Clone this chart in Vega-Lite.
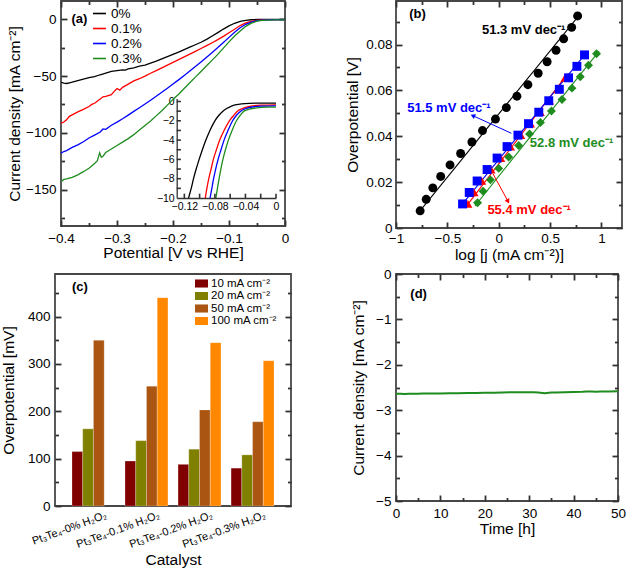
{
  "$schema": "https://vega.github.io/schema/vega-lite/v6.json",
  "background": "white",
  "padding": {"left": 0, "top": 0, "right": 0, "bottom": 0},
  "datasets": {
    "lsv": [
      {"s":"0%","v":-0.4,"j":-55.5},{"s":"0%","v":-0.395,"j":-56.3},{"s":"0%","v":-0.39,"j":-56.6},{"s":"0%","v":-0.385,"j":-56.0},{"s":"0%","v":-0.38,"j":-55.4},{"s":"0%","v":-0.37,"j":-54.0},{"s":"0%","v":-0.36,"j":-52.8},{"s":"0%","v":-0.35,"j":-51.5},{"s":"0%","v":-0.34,"j":-50.5},{"s":"0%","v":-0.33,"j":-48.9},{"s":"0%","v":-0.32,"j":-47.5},{"s":"0%","v":-0.31,"j":-46.0},{"s":"0%","v":-0.3,"j":-45.2},{"s":"0%","v":-0.29,"j":-44.6},{"s":"0%","v":-0.285,"j":-44.9},{"s":"0%","v":-0.28,"j":-43.8},{"s":"0%","v":-0.27,"j":-42.9},{"s":"0%","v":-0.26,"j":-41.3},{"s":"0%","v":-0.25,"j":-40.4},{"s":"0%","v":-0.24,"j":-38.6},{"s":"0%","v":-0.23,"j":-36.9},{"s":"0%","v":-0.22,"j":-35.0},{"s":"0%","v":-0.21,"j":-33.0},{"s":"0%","v":-0.2,"j":-30.9},{"s":"0%","v":-0.19,"j":-28.9},{"s":"0%","v":-0.18,"j":-26.8},{"s":"0%","v":-0.17,"j":-24.6},{"s":"0%","v":-0.16,"j":-22.5},{"s":"0%","v":-0.15,"j":-20.3},{"s":"0%","v":-0.14,"j":-17.8},{"s":"0%","v":-0.13,"j":-14.8},{"s":"0%","v":-0.12,"j":-11.8},{"s":"0%","v":-0.11,"j":-8.7},{"s":"0%","v":-0.1,"j":-5.9},{"s":"0%","v":-0.09,"j":-3.6},{"s":"0%","v":-0.08,"j":-2.0},{"s":"0%","v":-0.07,"j":-1.0},{"s":"0%","v":-0.06,"j":-0.5},{"s":"0%","v":-0.05,"j":-0.3},{"s":"0%","v":-0.04,"j":-0.2},{"s":"0%","v":-0.02,"j":-0.15},{"s":"0%","v":0,"j":-0.15},
      {"s":"0.1%","v":-0.4,"j":-91.5},{"s":"0.1%","v":-0.395,"j":-90.5},{"s":"0.1%","v":-0.39,"j":-88.5},{"s":"0.1%","v":-0.385,"j":-85.5},{"s":"0.1%","v":-0.38,"j":-84.2},{"s":"0.1%","v":-0.37,"j":-81.6},{"s":"0.1%","v":-0.36,"j":-79.4},{"s":"0.1%","v":-0.35,"j":-76.8},{"s":"0.1%","v":-0.345,"j":-75.0},{"s":"0.1%","v":-0.34,"j":-74.0},{"s":"0.1%","v":-0.33,"j":-70.3},{"s":"0.1%","v":-0.325,"j":-68.3},{"s":"0.1%","v":-0.32,"j":-67.9},{"s":"0.1%","v":-0.31,"j":-66.5},{"s":"0.1%","v":-0.305,"j":-63.5},{"s":"0.1%","v":-0.3,"j":-61.0},{"s":"0.1%","v":-0.295,"j":-62.4},{"s":"0.1%","v":-0.29,"j":-60.0},{"s":"0.1%","v":-0.28,"j":-57.2},{"s":"0.1%","v":-0.27,"j":-54.3},{"s":"0.1%","v":-0.26,"j":-52.4},{"s":"0.1%","v":-0.25,"j":-50.1},{"s":"0.1%","v":-0.24,"j":-47.6},{"s":"0.1%","v":-0.23,"j":-45.3},{"s":"0.1%","v":-0.22,"j":-42.8},{"s":"0.1%","v":-0.21,"j":-40.4},{"s":"0.1%","v":-0.2,"j":-38.0},{"s":"0.1%","v":-0.19,"j":-35.6},{"s":"0.1%","v":-0.18,"j":-33.2},{"s":"0.1%","v":-0.17,"j":-30.8},{"s":"0.1%","v":-0.16,"j":-28.3},{"s":"0.1%","v":-0.15,"j":-25.8},{"s":"0.1%","v":-0.14,"j":-23.3},{"s":"0.1%","v":-0.13,"j":-20.7},{"s":"0.1%","v":-0.12,"j":-18.0},{"s":"0.1%","v":-0.11,"j":-15.1},{"s":"0.1%","v":-0.1,"j":-12.0},{"s":"0.1%","v":-0.09,"j":-8.8},{"s":"0.1%","v":-0.08,"j":-5.6},{"s":"0.1%","v":-0.07,"j":-3.3},{"s":"0.1%","v":-0.06,"j":-1.9},{"s":"0.1%","v":-0.05,"j":-1.0},{"s":"0.1%","v":-0.04,"j":-0.6},{"s":"0.1%","v":-0.02,"j":-0.4},{"s":"0.1%","v":0,"j":-0.35},
      {"s":"0.2%","v":-0.4,"j":-118.0},{"s":"0.2%","v":-0.395,"j":-116.5},{"s":"0.2%","v":-0.39,"j":-115.6},{"s":"0.2%","v":-0.38,"j":-112.8},{"s":"0.2%","v":-0.37,"j":-110.6},{"s":"0.2%","v":-0.36,"j":-107.9},{"s":"0.2%","v":-0.35,"j":-104.6},{"s":"0.2%","v":-0.34,"j":-102.0},{"s":"0.2%","v":-0.33,"j":-99.3},{"s":"0.2%","v":-0.325,"j":-96.6},{"s":"0.2%","v":-0.32,"j":-96.9},{"s":"0.2%","v":-0.31,"j":-93.3},{"s":"0.2%","v":-0.3,"j":-90.6},{"s":"0.2%","v":-0.29,"j":-87.6},{"s":"0.2%","v":-0.28,"j":-84.4},{"s":"0.2%","v":-0.27,"j":-81.1},{"s":"0.2%","v":-0.26,"j":-77.9},{"s":"0.2%","v":-0.25,"j":-74.7},{"s":"0.2%","v":-0.24,"j":-71.3},{"s":"0.2%","v":-0.23,"j":-67.9},{"s":"0.2%","v":-0.22,"j":-64.3},{"s":"0.2%","v":-0.21,"j":-60.7},{"s":"0.2%","v":-0.2,"j":-57.1},{"s":"0.2%","v":-0.19,"j":-53.4},{"s":"0.2%","v":-0.18,"j":-49.6},{"s":"0.2%","v":-0.17,"j":-45.7},{"s":"0.2%","v":-0.16,"j":-41.7},{"s":"0.2%","v":-0.15,"j":-37.6},{"s":"0.2%","v":-0.14,"j":-33.5},{"s":"0.2%","v":-0.13,"j":-29.3},{"s":"0.2%","v":-0.12,"j":-25.0},{"s":"0.2%","v":-0.11,"j":-20.5},{"s":"0.2%","v":-0.1,"j":-16.0},{"s":"0.2%","v":-0.09,"j":-11.5},{"s":"0.2%","v":-0.08,"j":-7.5},{"s":"0.2%","v":-0.07,"j":-4.5},{"s":"0.2%","v":-0.06,"j":-2.5},{"s":"0.2%","v":-0.05,"j":-1.3},{"s":"0.2%","v":-0.04,"j":-0.8},{"s":"0.2%","v":-0.02,"j":-0.5},{"s":"0.2%","v":0,"j":-0.45},
      {"s":"0.3%","v":-0.4,"j":-143.0},{"s":"0.3%","v":-0.395,"j":-141.0},{"s":"0.3%","v":-0.39,"j":-140.6},{"s":"0.3%","v":-0.38,"j":-139.2},{"s":"0.3%","v":-0.37,"j":-137.0},{"s":"0.3%","v":-0.36,"j":-134.2},{"s":"0.3%","v":-0.35,"j":-131.2},{"s":"0.3%","v":-0.34,"j":-127.0},{"s":"0.3%","v":-0.335,"j":-124.6},{"s":"0.3%","v":-0.331,"j":-117.6},{"s":"0.3%","v":-0.328,"j":-121.6},{"s":"0.3%","v":-0.325,"j":-120.6},{"s":"0.3%","v":-0.32,"j":-117.2},{"s":"0.3%","v":-0.31,"j":-114.2},{"s":"0.3%","v":-0.3,"j":-111.2},{"s":"0.3%","v":-0.29,"j":-108.2},{"s":"0.3%","v":-0.28,"j":-105.1},{"s":"0.3%","v":-0.27,"j":-101.6},{"s":"0.3%","v":-0.26,"j":-97.6},{"s":"0.3%","v":-0.25,"j":-93.6},{"s":"0.3%","v":-0.24,"j":-89.6},{"s":"0.3%","v":-0.23,"j":-85.1},{"s":"0.3%","v":-0.22,"j":-80.6},{"s":"0.3%","v":-0.21,"j":-75.6},{"s":"0.3%","v":-0.2,"j":-70.6},{"s":"0.3%","v":-0.19,"j":-66.0},{"s":"0.3%","v":-0.18,"j":-61.0},{"s":"0.3%","v":-0.17,"j":-56.0},{"s":"0.3%","v":-0.16,"j":-51.0},{"s":"0.3%","v":-0.15,"j":-46.0},{"s":"0.3%","v":-0.14,"j":-41.0},{"s":"0.3%","v":-0.13,"j":-36.0},{"s":"0.3%","v":-0.12,"j":-31.0},{"s":"0.3%","v":-0.11,"j":-25.5},{"s":"0.3%","v":-0.1,"j":-20.0},{"s":"0.3%","v":-0.09,"j":-14.8},{"s":"0.3%","v":-0.08,"j":-10.5},{"s":"0.3%","v":-0.07,"j":-6.3},{"s":"0.3%","v":-0.06,"j":-3.5},{"s":"0.3%","v":-0.05,"j":-1.8},{"s":"0.3%","v":-0.04,"j":-1.0},{"s":"0.3%","v":-0.02,"j":-0.65},{"s":"0.3%","v":0,"j":-0.58}
    ],
    "lsvz": [
      {"s":"0%","v":-0.1145,"j":-10},{"s":"0%","v":-0.111,"j":-9},{"s":"0%","v":-0.108,"j":-8},{"s":"0%","v":-0.1045,"j":-7},{"s":"0%","v":-0.1006,"j":-6},{"s":"0%","v":-0.0964,"j":-5},{"s":"0%","v":-0.0918,"j":-4},{"s":"0%","v":-0.0865,"j":-3},{"s":"0%","v":-0.08,"j":-2},{"s":"0%","v":-0.075,"j":-1.45},{"s":"0%","v":-0.0695,"j":-1.0},{"s":"0%","v":-0.064,"j":-0.7},{"s":"0%","v":-0.059,"j":-0.5},{"s":"0%","v":-0.052,"j":-0.33},{"s":"0%","v":-0.045,"j":-0.24},{"s":"0%","v":-0.035,"j":-0.19},{"s":"0%","v":-0.02,"j":-0.17},{"s":"0%","v":0,"j":-0.17},
      {"s":"0.1%","v":-0.0926,"j":-10},{"s":"0.1%","v":-0.0905,"j":-9},{"s":"0.1%","v":-0.088,"j":-8},{"s":"0.1%","v":-0.085,"j":-7},{"s":"0.1%","v":-0.082,"j":-6},{"s":"0.1%","v":-0.078,"j":-5},{"s":"0.1%","v":-0.0737,"j":-4},{"s":"0.1%","v":-0.068,"j":-3},{"s":"0.1%","v":-0.061,"j":-2},{"s":"0.1%","v":-0.0555,"j":-1.45},{"s":"0.1%","v":-0.0505,"j":-1.0},{"s":"0.1%","v":-0.045,"j":-0.75},{"s":"0.1%","v":-0.04,"j":-0.6},{"s":"0.1%","v":-0.03,"j":-0.45},{"s":"0.1%","v":-0.02,"j":-0.38},{"s":"0.1%","v":0,"j":-0.34},
      {"s":"0.2%","v":-0.0863,"j":-10},{"s":"0.2%","v":-0.084,"j":-9},{"s":"0.2%","v":-0.0817,"j":-8},{"s":"0.2%","v":-0.079,"j":-7},{"s":"0.2%","v":-0.0758,"j":-6},{"s":"0.2%","v":-0.072,"j":-5},{"s":"0.2%","v":-0.068,"j":-4},{"s":"0.2%","v":-0.0628,"j":-3},{"s":"0.2%","v":-0.0568,"j":-2},{"s":"0.2%","v":-0.052,"j":-1.45},{"s":"0.2%","v":-0.0463,"j":-1.0},{"s":"0.2%","v":-0.04,"j":-0.75},{"s":"0.2%","v":-0.03,"j":-0.56},{"s":"0.2%","v":-0.02,"j":-0.48},{"s":"0.2%","v":0,"j":-0.45},
      {"s":"0.3%","v":-0.0787,"j":-10},{"s":"0.3%","v":-0.0767,"j":-9},{"s":"0.3%","v":-0.0745,"j":-8},{"s":"0.3%","v":-0.0722,"j":-7},{"s":"0.3%","v":-0.0695,"j":-6},{"s":"0.3%","v":-0.0662,"j":-5},{"s":"0.3%","v":-0.0623,"j":-4},{"s":"0.3%","v":-0.0575,"j":-3},{"s":"0.3%","v":-0.0518,"j":-2},{"s":"0.3%","v":-0.047,"j":-1.45},{"s":"0.3%","v":-0.042,"j":-1.0},{"s":"0.3%","v":-0.035,"j":-0.8},{"s":"0.3%","v":-0.025,"j":-0.66},{"s":"0.3%","v":-0.01,"j":-0.59},{"s":"0.3%","v":0,"j":-0.58}
    ],
    "insetXTicks": [{"v":-0.12},{"v":-0.1},{"v":-0.08},{"v":-0.06},{"v":-0.04},{"v":-0.02},{"v":0}],
    "insetYTicks": [{"j":-9},{"j":-8},{"j":-7},{"j":-6},{"j":-5},{"j":-4},{"j":-3},{"j":-2},{"j":-1},{"j":0}],
    "taf": [
      {"s":"0%","lj":-0.765,"eta":0.0075},{"s":"0%","lj":-0.706,"eta":0.0125},{"s":"0%","lj":-0.642,"eta":0.0175},{"s":"0%","lj":-0.565,"eta":0.0225},{"s":"0%","lj":-0.474,"eta":0.0275},{"s":"0%","lj":-0.371,"eta":0.0325},{"s":"0%","lj":-0.261,"eta":0.0375},{"s":"0%","lj":-0.158,"eta":0.0425},{"s":"0%","lj":-0.032,"eta":0.0475},{"s":"0%","lj":0.074,"eta":0.0525},{"s":"0%","lj":0.177,"eta":0.0575},{"s":"0%","lj":0.284,"eta":0.0625},{"s":"0%","lj":0.384,"eta":0.0675},{"s":"0%","lj":0.471,"eta":0.0725},{"s":"0%","lj":0.558,"eta":0.0775},{"s":"0%","lj":0.632,"eta":0.0825},{"s":"0%","lj":0.71,"eta":0.0875},{"s":"0%","lj":0.768,"eta":0.0925},
      {"s":"0.1%","lj":-0.3,"eta":0.0105},{"s":"0.1%","lj":-0.24,"eta":0.0155},{"s":"0.1%","lj":-0.165,"eta":0.0205},{"s":"0.1%","lj":-0.075,"eta":0.0255},{"s":"0.1%","lj":0.02,"eta":0.0305},{"s":"0.1%","lj":0.115,"eta":0.0355},{"s":"0.1%","lj":0.215,"eta":0.0405},{"s":"0.1%","lj":0.31,"eta":0.0455},{"s":"0.1%","lj":0.405,"eta":0.0505},{"s":"0.1%","lj":0.495,"eta":0.0555},{"s":"0.1%","lj":0.575,"eta":0.0605},{"s":"0.1%","lj":0.645,"eta":0.0655},
      {"s":"0.2%","lj":-0.352,"eta":0.0105},{"s":"0.2%","lj":-0.287,"eta":0.0155},{"s":"0.2%","lj":-0.21,"eta":0.0205},{"s":"0.2%","lj":-0.113,"eta":0.0255},{"s":"0.2%","lj":-0.016,"eta":0.0305},{"s":"0.2%","lj":0.081,"eta":0.0355},{"s":"0.2%","lj":0.187,"eta":0.0405},{"s":"0.2%","lj":0.29,"eta":0.0455},{"s":"0.2%","lj":0.39,"eta":0.0505},{"s":"0.2%","lj":0.487,"eta":0.0555},{"s":"0.2%","lj":0.59,"eta":0.0605},{"s":"0.2%","lj":0.68,"eta":0.0655},{"s":"0.2%","lj":0.761,"eta":0.0705},{"s":"0.2%","lj":0.835,"eta":0.0755},
      {"s":"0.3%","lj":-0.206,"eta":0.011},{"s":"0.3%","lj":-0.152,"eta":0.016},{"s":"0.3%","lj":-0.081,"eta":0.021},{"s":"0.3%","lj":0.0,"eta":0.026},{"s":"0.3%","lj":0.097,"eta":0.031},{"s":"0.3%","lj":0.194,"eta":0.036},{"s":"0.3%","lj":0.3,"eta":0.041},{"s":"0.3%","lj":0.406,"eta":0.046},{"s":"0.3%","lj":0.513,"eta":0.051},{"s":"0.3%","lj":0.616,"eta":0.056},{"s":"0.3%","lj":0.713,"eta":0.061},{"s":"0.3%","lj":0.794,"eta":0.066},{"s":"0.3%","lj":0.874,"eta":0.071},{"s":"0.3%","lj":0.952,"eta":0.076}
    ],
    "fit": [
      {"s":"0%","lj":-0.79,"eta":0.0062},{"s":"0%","lj":0.79,"eta":0.0932},
      {"s":"0.1%","lj":-0.32,"eta":0.0092},{"s":"0.1%","lj":0.67,"eta":0.0672},
      {"s":"0.2%","lj":-0.37,"eta":0.0095},{"s":"0.2%","lj":0.85,"eta":0.0763},
      {"s":"0.3%","lj":-0.232,"eta":0.0096},{"s":"0.3%","lj":0.977,"eta":0.0771}
    ],
    "note": [
      {"s":"0%","lj":0.243,"eta":0.0865,"t":"51.3 mV dec⁻¹"},
      {"s":"0.2%","lj":-0.485,"eta":0.0523,"t":"51.5 mV dec⁻¹"},
      {"s":"0.3%","lj":0.709,"eta":0.0371,"t":"52.8 mV dec⁻¹"},
      {"s":"0.1%","lj":0.296,"eta":0.008,"t":"55.4 mV dec⁻¹"}
    ],
    "arr": [
      {"s":"0.2%","x0":0.123,"y0":0.0413,"x1":-0.252,"y1":0.049},
      {"s":"0.1%","x0":-0.055,"y0":0.0236,"x1":0.091,"y1":0.0116}
    ],
    "bars": [
      {"cat":"Pt₃Te₄-0% H₂O₂","cd":"10 mA cm⁻²","eta":115},{"cat":"Pt₃Te₄-0% H₂O₂","cd":"20 mA cm⁻²","eta":163},{"cat":"Pt₃Te₄-0% H₂O₂","cd":"50 mA cm⁻²","eta":350},
      {"cat":"Pt₃Te₄-0.1% H₂O₂","cd":"10 mA cm⁻²","eta":95},{"cat":"Pt₃Te₄-0.1% H₂O₂","cd":"20 mA cm⁻²","eta":138},{"cat":"Pt₃Te₄-0.1% H₂O₂","cd":"50 mA cm⁻²","eta":253},{"cat":"Pt₃Te₄-0.1% H₂O₂","cd":"100 mA cm⁻²","eta":440},
      {"cat":"Pt₃Te₄-0.2% H₂O₂","cd":"10 mA cm⁻²","eta":88},{"cat":"Pt₃Te₄-0.2% H₂O₂","cd":"20 mA cm⁻²","eta":120},{"cat":"Pt₃Te₄-0.2% H₂O₂","cd":"50 mA cm⁻²","eta":203},{"cat":"Pt₃Te₄-0.2% H₂O₂","cd":"100 mA cm⁻²","eta":345},
      {"cat":"Pt₃Te₄-0.3% H₂O₂","cd":"10 mA cm⁻²","eta":80},{"cat":"Pt₃Te₄-0.3% H₂O₂","cd":"20 mA cm⁻²","eta":108},{"cat":"Pt₃Te₄-0.3% H₂O₂","cd":"50 mA cm⁻²","eta":178},{"cat":"Pt₃Te₄-0.3% H₂O₂","cd":"100 mA cm⁻²","eta":307}
    ],
    "stab": [
      {"t":0,"jd":-2.636},{"t":1,"jd":-2.64},{"t":2,"jd":-2.645},{"t":3,"jd":-2.64},{"t":4,"jd":-2.64},{"t":5,"jd":-2.638},{"t":6,"jd":-2.632},{"t":8,"jd":-2.63},{"t":10,"jd":-2.632},{"t":12,"jd":-2.628},{"t":14,"jd":-2.625},{"t":16,"jd":-2.62},{"t":18,"jd":-2.622},{"t":20,"jd":-2.616},{"t":22,"jd":-2.615},{"t":24,"jd":-2.61},{"t":26,"jd":-2.605},{"t":28,"jd":-2.607},{"t":30,"jd":-2.604},{"t":31,"jd":-2.605},{"t":32,"jd":-2.612},{"t":33,"jd":-2.622},{"t":33.5,"jd":-2.627},{"t":34,"jd":-2.62},{"t":35,"jd":-2.612},{"t":36,"jd":-2.61},{"t":38,"jd":-2.603},{"t":40,"jd":-2.598},{"t":42,"jd":-2.592},{"t":43,"jd":-2.586},{"t":44,"jd":-2.588},{"t":45,"jd":-2.594},{"t":46,"jd":-2.59},{"t":48,"jd":-2.588},{"t":50,"jd":-2.584}
    ],
    "tags": [
      {"p":"a","x":-0.367,"y":0.6,"t":"(a)"},
      {"p":"b","x":-0.791,"y":0.0933,"t":"(b)"},
      {"p":"c","cat":"Pt₃Te₄-0% H₂O₂","y":462,"t":"(c)"},
      {"p":"d","x":5.1,"y":-0.45,"t":"(d)"}
    ]
  },
  "concat": [
    {
      "width": 224, "height": 225,
      "layer": [
        {
          "data": {"name": "lsv"},
          "mark": {"type": "line", "strokeWidth": 1.3},
          "encoding": {
            "x": {"field": "v", "type": "quantitative", "scale": {"domain": [-0.4, 0], "nice": false, "zero": false},
              "axis": {"orient": "bottom", "title": "Potential [V vs RHE]", "format": "~g", "values": [-0.4,-0.3,-0.2,-0.1,0],
                "grid": true, "gridDash": [6, 3000], "labelPadding": 5, "titlePadding": 1}},
            "y": {"field": "j", "type": "quantitative", "scale": {"domain": [-182, 16], "nice": false, "zero": false},
              "axis": {"orient": "left", "title": "Current density [mA cm⁻²]", "values": [-150,-100,-50,0],
                "grid": true, "gridDash": [6, 3000], "labelPadding": 5, "titlePadding": 3}},
            "color": {"field": "s", "type": "nominal",
              "scale": {"domain": ["0%","0.1%","0.2%","0.3%"], "range": ["#000000","#ff0000","#0000ff","#1e8c1e"]},
              "legend": {"orient": "none", "legendX": 31, "legendY": 5, "title": null, "padding": 0,
                "symbolType": "stroke", "symbolSize": 169, "symbolStrokeWidth": 1.6,
                "labelFontSize": 13.5, "labelOffset": 4, "rowPadding": 1}}
          }
        },
        {
          "data": {"name": "tags"},
          "transform": [{"filter": "datum.p == 'a'"}],
          "mark": {"type": "text", "fontWeight": "bold", "fontSize": 13, "align": "center", "baseline": "middle"},
          "encoding": {
            "x": {"field": "x", "type": "quantitative", "scale": {"domain": [-0.4, 0], "nice": false, "zero": false},
              "axis": {"orient": "top", "title": null, "labels": false, "values": [-0.4,-0.3,-0.2,-0.1,0], "grid": true, "gridDash": [6, 3000]}},
            "y": {"field": "y", "type": "quantitative", "scale": {"domain": [-182, 16], "nice": false, "zero": false},
              "axis": {"orient": "right", "title": null, "labels": false, "values": [-150,-100,-50,0], "grid": true, "gridDash": [6, 3000]}},
            "text": {"field": "t"}
          }
        },
        {
          "data": {"name": "tags"},
          "transform": [{"filter": "datum.p == 'a'"}],
          "mark": {"type": "point", "opacity": 0},
          "encoding": {
            "x": {"field": "x", "type": "quantitative", "scale": {"domain": [-0.4, 0], "nice": false, "zero": false},
              "axis": {"orient": "bottom", "title": null, "labels": false, "values": [-0.35,-0.25,-0.15,-0.05], "grid": true, "gridDash": [3.5, 3000]}},
            "y": {"field": "y", "type": "quantitative", "scale": {"domain": [-182, 16], "nice": false, "zero": false},
              "axis": {"orient": "left", "title": null, "labels": false, "values": [-175,-125,-75,-25], "grid": true, "gridDash": [3.5, 3000]}}
          }
        },
        {
          "data": {"name": "tags"},
          "transform": [{"filter": "datum.p == 'a'"}],
          "mark": {"type": "point", "opacity": 0},
          "encoding": {
            "x": {"field": "x", "type": "quantitative", "scale": {"domain": [-0.4, 0], "nice": false, "zero": false},
              "axis": {"orient": "top", "title": null, "labels": false, "values": [-0.35,-0.25,-0.15,-0.05], "grid": true, "gridDash": [3.5, 3000]}},
            "y": {"field": "y", "type": "quantitative", "scale": {"domain": [-182, 16], "nice": false, "zero": false},
              "axis": {"orient": "right", "title": null, "labels": false, "values": [-175,-125,-75,-25], "grid": true, "gridDash": [3.5, 3000]}}
          }
        },
        {
          "data": {"name": "lsvz"},
          "mark": {"type": "line", "strokeWidth": 1.3, "interpolate": "monotone"},
          "encoding": {
            "x": {"field": "v", "type": "quantitative", "scale": {"domain": [-0.13, 0], "range": [115.7, 215], "nice": false, "zero": false},
              "axis": {"orient": "bottom", "offset": -28, "title": null, "format": "~g", "domain": true, "domainColor": "#333", "domainWidth": 1.3,
                "values": [-0.12,-0.1,-0.08,-0.06,-0.04,-0.02,0],
                "labelExpr": "abs(round(datum.value*100)) % 4 == 0 ? datum.label : ''",
                "labelFontSize": 10.5, "labelPadding": 3}},
            "y": {"field": "j", "type": "quantitative", "scale": {"domain": [-10, 0.3], "range": [197, 97.6], "nice": false, "zero": false},
              "axis": {"orient": "left", "offset": -115.7, "title": null, "domain": true, "domainColor": "#333", "domainWidth": 1.3,
                "values": [-10,-9,-8,-7,-6,-5,-4,-3,-2,-1,0],
                "labelExpr": "datum.value % 2 == 0 ? datum.label : ''",
                "labelFontSize": 10.5, "labelPadding": 2.5}},
            "color": {"field": "s", "type": "nominal"}
          }
        },
        {
          "data": {"name": "insetXTicks"},
          "mark": {"type": "rule", "color": "#333333", "strokeWidth": 1.6},
          "encoding": {
            "x": {"field": "v", "type": "quantitative", "scale": {"domain": [-0.13, 0], "range": [115.7, 215], "nice": false, "zero": false}, "axis": null},
            "y": {"datum": -10, "type": "quantitative", "scale": {"domain": [-10, 0.3], "range": [197, 97.6], "nice": false, "zero": false}, "axis": null},
            "y2": {"datum": -9.55}
          }
        },
        {
          "data": {"name": "insetYTicks"},
          "mark": {"type": "rule", "color": "#333333", "strokeWidth": 1.6},
          "encoding": {
            "y": {"field": "j", "type": "quantitative", "scale": {"domain": [-10, 0.3], "range": [197, 97.6], "nice": false, "zero": false}, "axis": null},
            "x": {"datum": -0.13, "type": "quantitative", "scale": {"domain": [-0.13, 0], "range": [115.7, 215], "nice": false, "zero": false}, "axis": null},
            "x2": {"datum": -0.1245}
          }
        }
      ],
      "resolve": {"scale": {"x": "independent", "y": "independent"}, "axis": {"x": "independent", "y": "independent"}}
    },
    {
      "width": 226, "height": 227,
      "layer": [
        {
          "data": {"name": "fit"},
          "mark": {"type": "line", "strokeWidth": 1.1},
          "encoding": {
            "x": {"field": "lj", "type": "quantitative", "scale": {"domain": [-1, 1.2], "nice": false, "zero": false}, "axis": null},
            "y": {"field": "eta", "type": "quantitative", "scale": {"domain": [0, 0.099], "nice": false, "zero": false}, "axis": null},
            "detail": {"field": "s"},
            "stroke": {"field": "s", "type": "nominal", "scale": {"domain": ["0%","0.1%","0.2%","0.3%"], "range": ["#000000","#ff0000","#0000ff","#1e8c1e"]}, "legend": null}
          }
        },
        {
          "data": {"name": "taf"},
          "mark": {"type": "point", "filled": true, "size": 80, "opacity": 1},
          "encoding": {
            "x": {"field": "lj", "type": "quantitative", "scale": {"domain": [-1, 1.2], "nice": false, "zero": false},
              "axis": {"orient": "bottom", "title": "log [j (mA cm⁻²)]", "format": "~g", "values": [-1,-0.5,0,0.5,1],
                "grid": true, "gridDash": [6, 3000], "labelPadding": 3.5, "titlePadding": 2}},
            "y": {"field": "eta", "type": "quantitative", "scale": {"domain": [0, 0.099], "nice": false, "zero": false},
              "axis": {"orient": "left", "title": "Overpotential [V]", "values": [0,0.02,0.04,0.06,0.08],
                "labelExpr": "datum.value == 0 ? '0' : format(datum.value, '.2f')",
                "grid": true, "gridDash": [6, 3000], "labelPadding": 4, "titlePadding": 5}},
            "color": {"field": "s", "type": "nominal",
              "scale": {"domain": ["0%","0.1%","0.2%","0.3%"], "range": ["#000000","#ff0000","#0000ff","#1e8c1e"]},
              "legend": {"orient": "none", "legendX": 13, "legendY": 22, "title": null, "padding": 0,
                "symbolSize": 80, "labelFontSize": 13.5, "labelOffset": 3, "rowPadding": 1}},
            "shape": {"field": "s", "type": "nominal",
              "scale": {"domain": ["0%","0.1%","0.2%","0.3%"], "range": ["circle","triangle-up","square","diamond"]},
              "legend": {"orient": "none", "legendX": 13, "legendY": 22, "title": null, "padding": 0,
                "symbolSize": 80, "labelFontSize": 13.5, "labelOffset": 3, "rowPadding": 1}}
          }
        },
        {
          "data": {"name": "arr"},
          "mark": {"type": "rule", "strokeWidth": 1},
          "encoding": {
            "x": {"field": "x0", "type": "quantitative", "scale": {"domain": [-1, 1.2], "nice": false, "zero": false}, "axis": null},
            "y": {"field": "y0", "type": "quantitative", "scale": {"domain": [0, 0.099], "nice": false, "zero": false}, "axis": null},
            "x2": {"field": "x1"},
            "y2": {"field": "y1"},
            "stroke": {"field": "s", "type": "nominal", "legend": null}
          }
        },
        {
          "data": {"name": "arr"},
          "transform": [{"filter": "datum.s == '0.2%'"}],
          "mark": {"type": "point", "shape": "triangle-up", "filled": true, "size": 28, "angle": 295, "opacity": 1},
          "encoding": {
            "x": {"field": "x1", "type": "quantitative", "scale": {"domain": [-1, 1.2], "nice": false, "zero": false}, "axis": null},
            "y": {"field": "y1", "type": "quantitative", "scale": {"domain": [0, 0.099], "nice": false, "zero": false}, "axis": null},
            "fill": {"field": "s", "type": "nominal", "scale": {"domain": ["0%","0.1%","0.2%","0.3%"], "range": ["#000000","#ff0000","#0000ff","#1e8c1e"]}, "legend": null}
          }
        },
        {
          "data": {"name": "arr"},
          "transform": [{"filter": "datum.s == '0.1%'"}],
          "mark": {"type": "point", "shape": "triangle-up", "filled": true, "size": 28, "angle": 151, "opacity": 1},
          "encoding": {
            "x": {"field": "x1", "type": "quantitative", "scale": {"domain": [-1, 1.2], "nice": false, "zero": false}, "axis": null},
            "y": {"field": "y1", "type": "quantitative", "scale": {"domain": [0, 0.099], "nice": false, "zero": false}, "axis": null},
            "fill": {"field": "s", "type": "nominal", "legend": null}
          }
        },
        {
          "data": {"name": "note"},
          "mark": {"type": "text", "fontWeight": "bold", "fontSize": 13, "align": "center", "baseline": "middle"},
          "encoding": {
            "x": {"field": "lj", "type": "quantitative", "scale": {"domain": [-1, 1.2], "nice": false, "zero": false},
              "axis": {"orient": "top", "title": null, "labels": false, "values": [-1,-0.5,0,0.5,1], "grid": true, "gridDash": [6, 3000]}},
            "y": {"field": "eta", "type": "quantitative", "scale": {"domain": [0, 0.099], "nice": false, "zero": false},
              "axis": {"orient": "right", "title": null, "labels": false, "values": [0,0.02,0.04,0.06,0.08], "grid": true, "gridDash": [6, 3000]}},
            "fill": {"field": "s", "type": "nominal", "legend": null},
            "text": {"field": "t"}
          }
        },
        {
          "data": {"name": "tags"},
          "transform": [{"filter": "datum.p == 'b'"}],
          "mark": {"type": "text", "fontWeight": "bold", "fontSize": 13, "align": "center", "baseline": "middle", "color": "#000"},
          "encoding": {
            "x": {"field": "x", "type": "quantitative", "scale": {"domain": [-1, 1.2], "nice": false, "zero": false},
              "axis": {"orient": "bottom", "title": null, "labels": false, "values": [-0.75,-0.25,0.25,0.75], "grid": true, "gridDash": [3.5, 3000]}},
            "y": {"field": "y", "type": "quantitative", "scale": {"domain": [0, 0.099], "nice": false, "zero": false},
              "axis": {"orient": "left", "title": null, "labels": false, "values": [0.01,0.03,0.05,0.07,0.09], "grid": true, "gridDash": [3.5, 3000]}},
            "text": {"field": "t"}
          }
        },
        {
          "data": {"name": "tags"},
          "transform": [{"filter": "datum.p == 'b'"}],
          "mark": {"type": "point", "opacity": 0},
          "encoding": {
            "x": {"field": "x", "type": "quantitative", "scale": {"domain": [-1, 1.2], "nice": false, "zero": false},
              "axis": {"orient": "top", "title": null, "labels": false, "values": [-0.75,-0.25,0.25,0.75], "grid": true, "gridDash": [3.5, 3000]}},
            "y": {"field": "y", "type": "quantitative", "scale": {"domain": [0, 0.099], "nice": false, "zero": false},
              "axis": {"orient": "right", "title": null, "labels": false, "values": [0.01,0.03,0.05,0.07,0.09], "grid": true, "gridDash": [3.5, 3000]}}
          }
        }
      ],
      "resolve": {"axis": {"x": "independent", "y": "independent"}}
    },
    {
      "width": 236, "height": 232,
      "layer": [
        {
          "data": {"name": "bars"},
          "mark": {"type": "bar", "stroke": "#ffffff", "strokeWidth": 0.5, "strokeOpacity": 0.5},
          "encoding": {
            "x": {"field": "cat", "type": "nominal", "sort": null,
              "scale": {"domain": ["Pt₃Te₄-0% H₂O₂","Pt₃Te₄-0.1% H₂O₂","Pt₃Te₄-0.2% H₂O₂","Pt₃Te₄-0.3% H₂O₂"], "paddingInner": 0.19, "paddingOuter": 0.32},
              "axis": {"title": "Catalyst", "labelAngle": -20, "labelAlign": "right", "labelBaseline": "top", "ticks": false, "grid": false,
                "labelFontSize": 11, "labelPadding": 3, "labelOffset": 11, "titlePadding": 3}},
            "xOffset": {"field": "cd", "type": "nominal", "scale": {"domain": ["10 mA cm⁻²","20 mA cm⁻²","50 mA cm⁻²","100 mA cm⁻²"]}},
            "y": {"field": "eta", "type": "quantitative", "scale": {"domain": [0, 490], "nice": false},
              "axis": {"orient": "left", "title": "Overpotential [mV]", "values": [0,100,200,300,400],
                "grid": true, "gridDash": [6, 3000], "labelPadding": 5, "titlePadding": 11}},
            "color": {"field": "cd", "type": "nominal",
              "scale": {"domain": ["10 mA cm⁻²","20 mA cm⁻²","50 mA cm⁻²","100 mA cm⁻²"], "range": ["#800000","#808000","#aa5511","#ff8800"]},
              "legend": {"orient": "none", "legendX": 140, "legendY": 3, "title": null, "padding": 0,
                "symbolType": "M-1,-0.62H1V0.62H-1Z", "symbolSize": 169, "symbolStrokeWidth": 0, "symbolOpacity": 1,
                "labelFontSize": 11.5, "labelOffset": 3, "rowPadding": 0.5}}
          }
        },
        {
          "data": {"name": "tags"},
          "transform": [{"filter": "datum.p == 'c'"}],
          "mark": {"type": "text", "fontWeight": "bold", "fontSize": 13, "align": "left", "baseline": "middle"},
          "encoding": {
            "x": {"field": "cat", "type": "nominal", "bandPosition": 0},
            "y": {"field": "y", "type": "quantitative", "scale": {"domain": [0, 490], "nice": false},
              "axis": {"orient": "right", "title": null, "labels": false, "values": [0,100,200,300,400], "grid": true, "gridDash": [6, 3000]}},
            "text": {"field": "t"}
          }
        },
        {
          "data": {"name": "tags"},
          "transform": [{"filter": "datum.p == 'c'"}],
          "mark": {"type": "point", "opacity": 0},
          "encoding": {
            "x": {"field": "cat", "type": "nominal"},
            "y": {"field": "y", "type": "quantitative", "scale": {"domain": [0, 490], "nice": false},
              "axis": {"orient": "left", "title": null, "labels": false, "values": [50,150,250,350,450], "grid": true, "gridDash": [3.5, 3000]}}
          }
        },
        {
          "data": {"name": "tags"},
          "transform": [{"filter": "datum.p == 'c'"}],
          "mark": {"type": "point", "opacity": 0},
          "encoding": {
            "x": {"field": "cat", "type": "nominal"},
            "y": {"field": "y", "type": "quantitative", "scale": {"domain": [0, 490], "nice": false},
              "axis": {"orient": "right", "title": null, "labels": false, "values": [50,150,250,350,450], "grid": true, "gridDash": [3.5, 3000]}}
          }
        }
      ],
      "resolve": {"axis": {"y": "independent"}}
    },
    {
      "width": 222, "height": 227,
      "layer": [
        {
          "data": {"name": "stab"},
          "mark": {"type": "line", "strokeWidth": 2, "color": "#1e8c1e"},
          "encoding": {
            "x": {"field": "t", "type": "quantitative", "scale": {"domain": [0, 50], "nice": false, "zero": false},
              "axis": {"orient": "bottom", "title": "Time [h]", "values": [0,10,20,30,40,50],
                "grid": true, "gridDash": [6, 3000], "labelPadding": 5, "titlePadding": 2}},
            "y": {"field": "jd", "type": "quantitative", "scale": {"domain": [-5, 0], "nice": false, "zero": false},
              "axis": {"orient": "left", "title": "Current density [mA cm⁻²]", "format": "~g", "values": [-5,-4,-3,-2,-1,0],
                "grid": true, "gridDash": [6, 3000], "labelPadding": 5, "titlePadding": 9}}
          }
        },
        {
          "data": {"name": "tags"},
          "transform": [{"filter": "datum.p == 'd'"}],
          "mark": {"type": "text", "fontWeight": "bold", "fontSize": 13, "align": "center", "baseline": "middle"},
          "encoding": {
            "x": {"field": "x", "type": "quantitative", "scale": {"domain": [0, 50], "nice": false, "zero": false},
              "axis": {"orient": "top", "title": null, "labels": false, "values": [0,10,20,30,40,50], "grid": true, "gridDash": [6, 3000]}},
            "y": {"field": "y", "type": "quantitative", "scale": {"domain": [-5, 0], "nice": false, "zero": false},
              "axis": {"orient": "right", "title": null, "labels": false, "values": [-5,-4,-3,-2,-1,0], "grid": true, "gridDash": [6, 3000]}},
            "text": {"field": "t"}
          }
        },
        {
          "data": {"name": "tags"},
          "transform": [{"filter": "datum.p == 'd'"}],
          "mark": {"type": "point", "opacity": 0},
          "encoding": {
            "x": {"field": "x", "type": "quantitative", "scale": {"domain": [0, 50], "nice": false, "zero": false},
              "axis": {"orient": "bottom", "title": null, "labels": false, "values": [5,15,25,35,45], "grid": true, "gridDash": [3.5, 3000]}},
            "y": {"field": "y", "type": "quantitative", "scale": {"domain": [-5, 0], "nice": false, "zero": false},
              "axis": {"orient": "left", "title": null, "labels": false, "values": [-4.5,-3.5,-2.5,-1.5,-0.5], "grid": true, "gridDash": [3.5, 3000]}}
          }
        },
        {
          "data": {"name": "tags"},
          "transform": [{"filter": "datum.p == 'd'"}],
          "mark": {"type": "point", "opacity": 0},
          "encoding": {
            "x": {"field": "x", "type": "quantitative", "scale": {"domain": [0, 50], "nice": false, "zero": false},
              "axis": {"orient": "top", "title": null, "labels": false, "values": [5,15,25,35,45], "grid": true, "gridDash": [3.5, 3000]}},
            "y": {"field": "y", "type": "quantitative", "scale": {"domain": [-5, 0], "nice": false, "zero": false},
              "axis": {"orient": "right", "title": null, "labels": false, "values": [-4.5,-3.5,-2.5,-1.5,-0.5], "grid": true, "gridDash": [3.5, 3000]}}
          }
        }
      ],
      "resolve": {"axis": {"x": "independent", "y": "independent"}}
    }
  ],
  "columns": 2,
  "spacing": {"row": 46, "column": 105},
  "bounds": "flush",
  "center": {"column": true, "row": false},
  "resolve": {"scale": {"color": "independent", "shape": "independent", "stroke": "independent", "fill": "independent"}},
  "config": {
    "font": "Liberation Sans",
    "view": {"stroke": "#474747", "strokeWidth": 1.8},
    "axis": {
      "labelFont": "Liberation Sans", "labelFontSize": 13.5, "labelColor": "#000",
      "titleFont": "Liberation Sans", "titleFontSize": 15.5, "titleFontWeight": "normal", "titleColor": "#000",
      "domain": false, "ticks": false,
      "gridColor": "#333333", "gridWidth": 1.8, "gridOpacity": 1, "gridCap": "butt",
      "labelFlush": false, "labelOverlap": false, "labelBound": false
    },
    "legend": {"labelFont": "Liberation Sans", "labelColor": "#000"},
    "text": {"font": "Liberation Sans"}
  }
}
